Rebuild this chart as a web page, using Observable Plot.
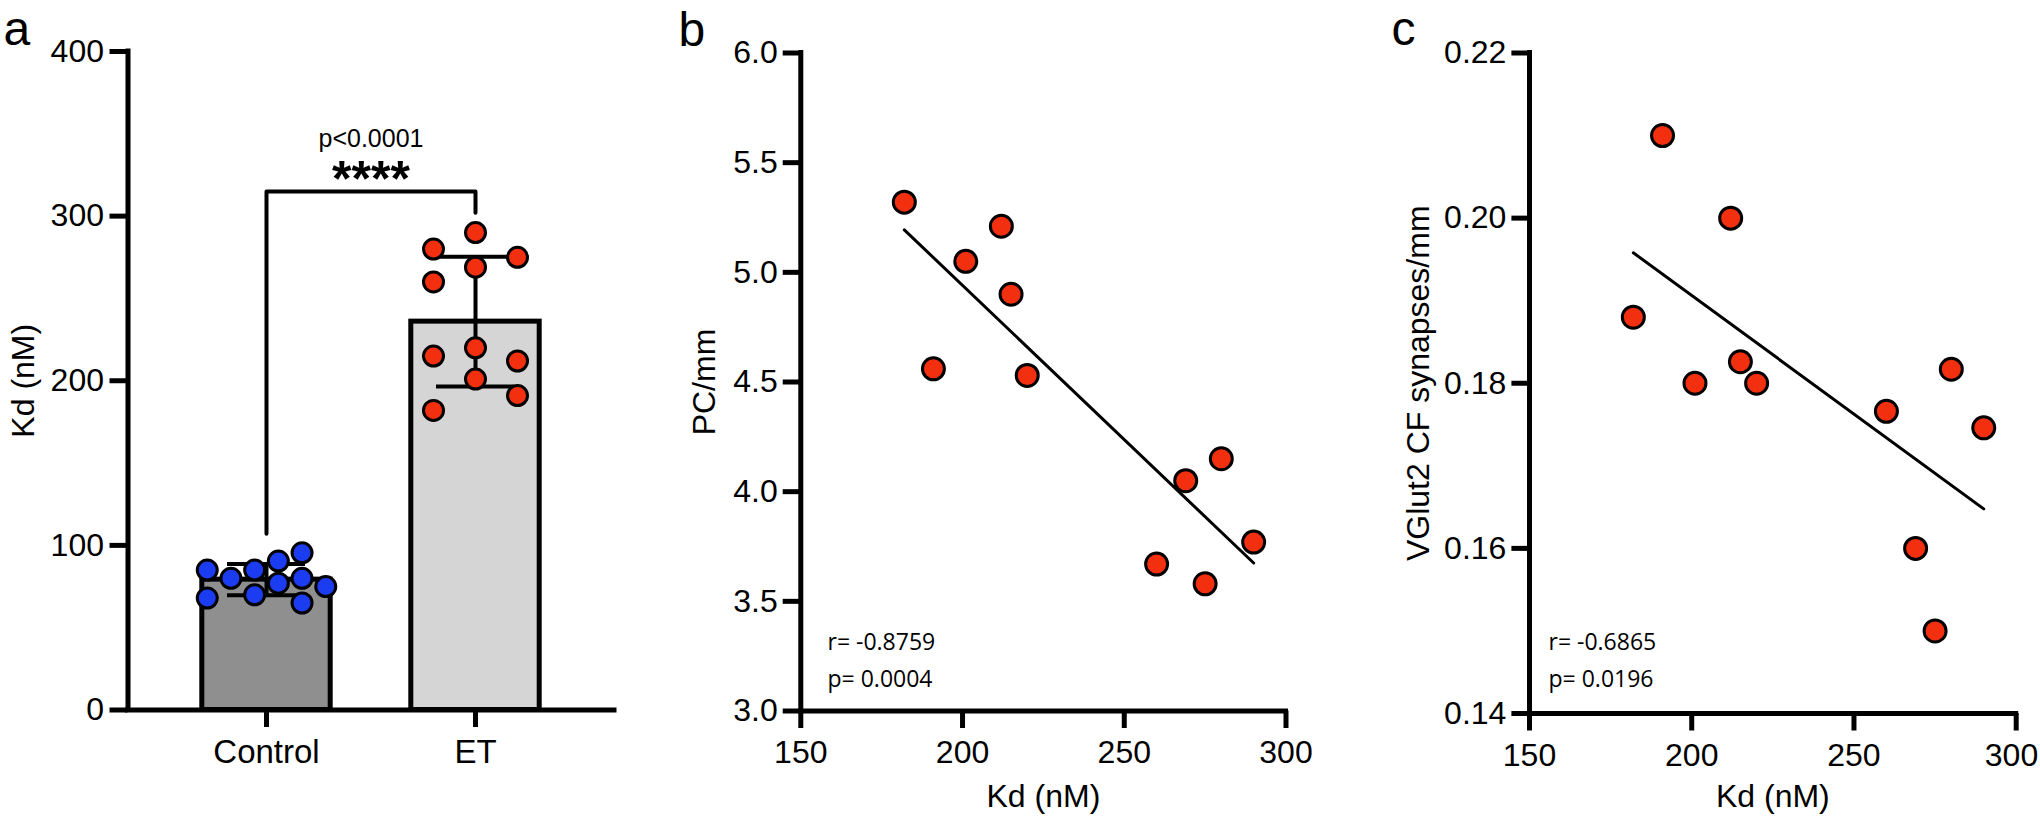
<!DOCTYPE html>
<html><head><meta charset="utf-8">
<script src="https://cdn.jsdelivr.net/npm/d3@7"></script>
<script src="https://cdn.jsdelivr.net/npm/@observablehq/plot@0.6"></script>
<style>
body{margin:0;background:#fff;}
#fig{position:relative;width:2040px;height:824px;overflow:hidden;background:#fff;}
</style></head><body><div id="fig"></div>
<script>
// ---------- data ----------
const groups = ["Control", "ET"];
const controlKd = [85, 68, 80, 85, 70, 90.5, 77, 95.5, 80, 65, 75];
const controlLane = [-2.5, -2.5, -1.5, -0.5, -0.5, 0.5, 0.5, 1.5, 1.5, 1.5, 2.5];
const etKd = [182, 191, 201, 212, 215, 220, 260, 269, 275, 280, 290];
const etLane = [-1, 1, 0, 1, -1, 0, -1, 0, 1, -1, 0];
const pcPerMm = [5.32, 4.56, 5.05, 5.21, 4.90, 4.53, 3.67, 4.05, 3.58, 4.15, 3.77];
const vglut2 = [0.188, 0.210, 0.180, 0.200, 0.1826, 0.180, 0.1766, 0.160, 0.150, 0.1817, 0.1746];
const barTicks = [0, 100, 200, 300, 400];
const kdTicks = [150, 200, 250, 300];
const pcTicks = [3.0, 3.5, 4.0, 4.5, 5.0, 5.5, 6.0];
const vglutTicks = [0.14, 0.16, 0.18, 0.20, 0.22];
const statsB = ["r= -0.8759", "p= 0.0004"];
const statsC = ["r= -0.6865", "p= 0.0196"];
const pLabel = "p<0.0001";
const stars = "****";

// ---------- style ----------
const FONT = "'Liberation Sans', Arial, Helvetica, sans-serif";
const STATFONT = "'Open Sans', 'Noto Sans', sans-serif";
const BLUE = "#1c3cf2", RED = "#f2300f";
const H = 824;
const fig = document.getElementById("fig");
function place(el, left) {
  el.style.position = "absolute"; el.style.left = left + "px"; el.style.top = "0px";
  fig.appendChild(el);
}
const baseStyle = {fontFamily: FONT, fontSize: "32px", color: "black", background: "transparent", overflow: "visible"};

// ---------- panel a ----------
{
  const W = 640, fL = 127.5, fR = 614, xC = 266, xE = 475, gap = xE - xC;
  const xDom = [(fL - xC) / gap, (fR - xC) / gap];
  const stats = groups.map((g, i) => {
    const vals = i ? etKd : controlKd;
    return {g: i, mean: d3.mean(vals), sd: d3.deviation(vals)};
  });
  const halfBar = 64.2 / gap, halfCap = 39 / gap;
  const caps = stats.flatMap(d => [{g: d.g, y: d.mean - d.sd}, {g: d.g, y: d.mean + d.sd}]);
  const ctrl = controlKd.map((v, i) => ({x: 0 + controlLane[i] * 23.7 / gap, v}));
  const et = etKd.map((v, i) => ({x: 1 + etLane[i] * 42 / gap, v}));
  const top = d3.max(etKd) + 25;
  const bracket = [
    {x: 0, y: d3.max(controlKd) + 11.5}, {x: 0, y: top}, {x: 1, y: top}, {x: 1, y: d3.max(etKd) + 12}
  ];
  const p = Plot.plot({
    width: W, height: H,
    marginLeft: fL, marginRight: W - fR, marginTop: 51, marginBottom: H - 709.5,
    style: baseStyle,
    x: {domain: xDom},
    y: {domain: [0, 400]},
    marks: [
      Plot.rectY(stats, {x1: d => d.g - halfBar, x2: d => d.g + halfBar, y: "mean",
        fill: d => d.g ? "#d5d5d5" : "#8f8f8f", stroke: "black", strokeWidth: 5}),
      Plot.ruleX(stats, {x: "g", y1: d => d.mean - d.sd, y2: d => d.mean + d.sd, strokeWidth: 4}),
      Plot.ruleY(caps, {x1: d => d.g - halfCap, x2: d => d.g + halfCap, y: "y", strokeWidth: 4}),
      Plot.line(bracket, {x: "x", y: "y", strokeWidth: 4}),
      Plot.text([pLabel], {x: 0.5, y: top + 27, text: d => d, fontSize: 25, lineAnchor: "bottom"}),
      Plot.text([stars], {x: 0.5, y: top - 3, text: d => d, fontSize: 50, fontWeight: "bold", lineAnchor: "bottom"}),
      Plot.dot(ctrl, {x: "x", y: "v", r: 10, fill: BLUE, stroke: "black", strokeWidth: 3}),
      Plot.dot(et, {x: "x", y: "v", r: 10, fill: RED, stroke: "black", strokeWidth: 3}),
      Plot.ruleX([xDom[0]], {strokeWidth: 5, strokeLinecap: "square"}),
      Plot.ruleY([0], {strokeWidth: 5, strokeLinecap: "square"}),
      Plot.axisY({ticks: barTicks, tickSize: 18, tickPadding: 6, strokeWidth: 5, label: null}),
      Plot.axisX({ticks: [0, 1], tickFormat: i => groups[i], tickSize: 17.5, tickPadding: 12, strokeWidth: 5, label: null, fontSize: 33}),
      Plot.text(["Kd (nM)"], {frameAnchor: "left", dx: 33 - fL, rotate: -90, textAnchor: "middle", lineAnchor: "bottom", text: d => d, fontSize: 32}),
      Plot.text(["a"], {frameAnchor: "top-left", dx: 3 - fL, dy: 44 - 51, textAnchor: "start", lineAnchor: "bottom", text: d => d, fontSize: 48})
    ]
  });
  place(p, 0);
}

// ---------- scatter panels ----------
function scatter(o) {
  const data = etKd.map((k, i) => ({k, v: o.values[i]}));
  const fL = o.axisX - o.left;
  const last = kdTicks[kdTicks.length - 1];
  return Plot.plot({
    width: o.width, height: H,
    marginLeft: fL, marginRight: o.left + o.width - o.endX, marginTop: o.top, marginBottom: H - o.bottom,
    style: baseStyle,
    x: {domain: [150, 300]},
    y: {domain: o.yDom},
    marks: [
      Plot.linearRegressionY(data, {x: "k", y: "v", stroke: "black", strokeWidth: 3, ci: 0}),
      Plot.dot(data, {x: "k", y: "v", r: 11, fill: RED, stroke: "black", strokeWidth: 3}),
      Plot.ruleX([150], {strokeWidth: 5, strokeLinecap: "square"}),
      Plot.ruleY([o.yDom[0]], {strokeWidth: 5, strokeLinecap: "square"}),
      Plot.axisY({ticks: o.yTicks, tickFormat: d3.format(o.yFmt), tickSize: 17.6, tickPadding: 5.5, strokeWidth: 5, label: null}),
      Plot.axisX({ticks: o.shiftLast ? kdTicks.slice(0, -1) : kdTicks, tickSize: 17.5, tickPadding: 12, strokeWidth: 5, label: null}),
      ...(o.shiftLast ? [
        Plot.axisX({ticks: [last], tickSize: 17.5, tickPadding: 12, strokeWidth: 5, label: null, tickFormat: () => ""}),
        Plot.text([last], {x: d => d, frameAnchor: "bottom", dy: 29.5, dx: o.shiftLast, lineAnchor: "top", textAnchor: "end", text: d => String(d), fontSize: 32})
      ] : []),
      Plot.text(["Kd (nM)"], {frameAnchor: "bottom", dy: o.xLabelBase - o.bottom, textAnchor: "middle", lineAnchor: "bottom", text: d => d, fontSize: 32}),
      Plot.text([o.yLabel], {frameAnchor: "left", dx: o.yLabelBase - o.axisX, rotate: -90, textAnchor: "middle", lineAnchor: "bottom", text: d => d, fontSize: 32}),
      Plot.text([o.stats[0]], {frameAnchor: "bottom-left", dx: o.statX - o.axisX, dy: 649 - o.bottom, textAnchor: "start", lineAnchor: "bottom", text: d => d, fontSize: 23, fontFamily: STATFONT}),
      Plot.text([o.stats[1]], {frameAnchor: "bottom-left", dx: o.statX - o.axisX, dy: 686 - o.bottom, textAnchor: "start", lineAnchor: "bottom", text: d => d, fontSize: 23, fontFamily: STATFONT}),
      Plot.text([o.letter], {frameAnchor: "top-left", dx: o.letterX - o.axisX, dy: o.letterBase - o.top, textAnchor: "start", lineAnchor: "bottom", text: d => d, fontSize: 48})
    ]
  });
}

place(scatter({
  left: 600, width: 720, axisX: 800.3, endX: 1285.5, top: 52.5, bottom: 710.5,
  values: pcPerMm, yDom: [3, 6], yTicks: pcTicks, yFmt: ".1f", yLabel: "PC/mm",
  yLabelBase: 714, xLabelBase: 806, stats: statsB, statX: 827, letter: "b", letterX: 678, letterBase: 45
}), 600);

place(scatter({
  left: 1320, width: 720, axisX: 1529, endX: 2015.7, top: 52.5, bottom: 713,
  values: vglut2, yDom: [0.14, 0.22], yTicks: vglutTicks, yFmt: ".2f", yLabel: "VGlut2 CF synapses/mm",
  yLabelBase: 1428, xLabelBase: 806, stats: statsC, statX: 1548, letter: "c", letterX: 1391, letterBase: 44,
  shiftLast: 22
}), 1320);
</script>
</body></html>
